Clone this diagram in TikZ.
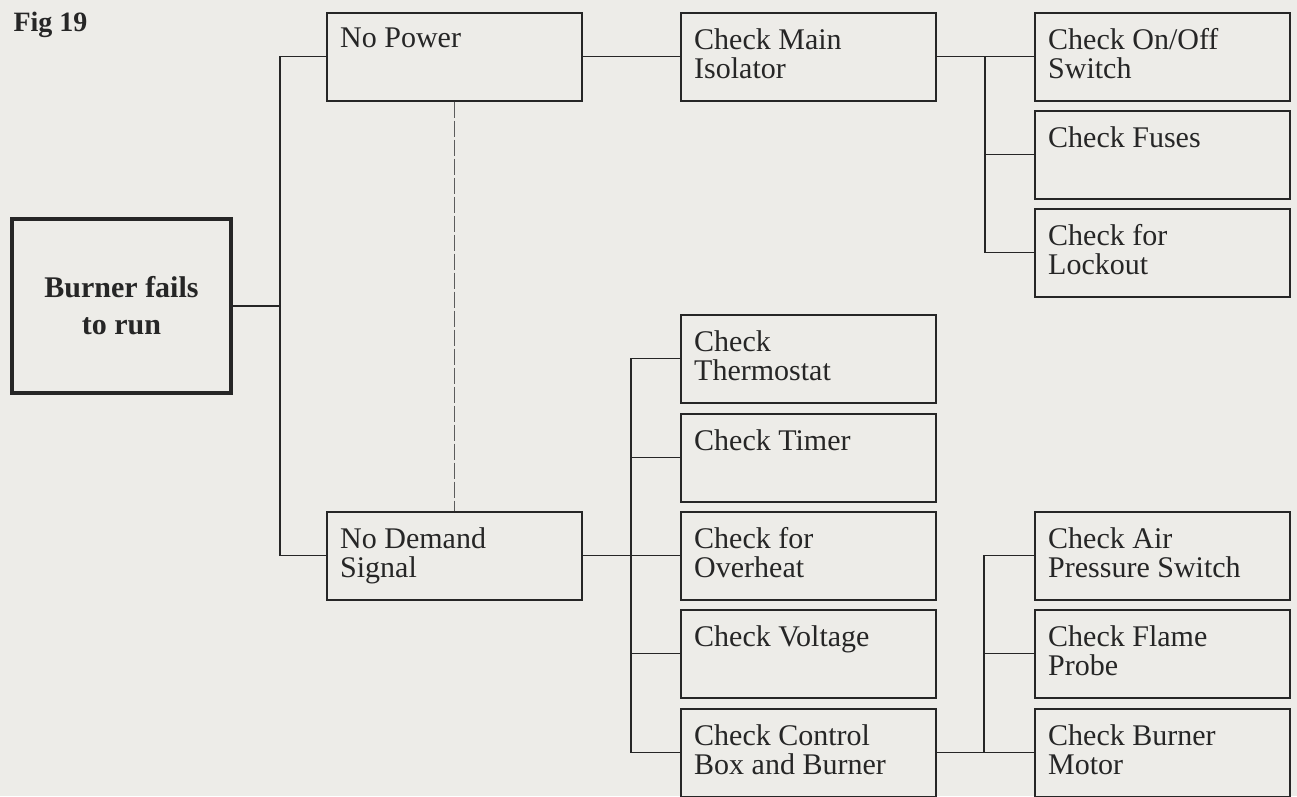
\documentclass[tikz,border=0pt]{standalone}
\usepackage{fontspec}
\setmainfont{Liberation Serif}

\definecolor{paper}{RGB}{237,236,232}
\definecolor{ink}{RGB}{38,38,38}
\newcommand{\chartfont}{\fontsize{30}{29}\selectfont}

\tikzset{
  box/.style={draw=ink, line width=1.5pt, anchor=north west,
    minimum width=255pt, minimum height=88pt, inner sep=0pt,
    label={[anchor=north west, align=left, inner xsep=14pt, inner ysep=16pt,
      font=\chartfont, text=ink]north west:#1}},
  link/.style={draw=ink, line width=1.3pt},
}

\begin{document}
\begin{tikzpicture}[x=1pt, y=-1pt]
        \fill[paper] (0,0) rectangle (1297,796);
        \useasboundingbox (0,0) rectangle (1297,796);

        \node[anchor=base west, text=ink, font=\bfseries\fontsize{28}{29}\selectfont] (fig) at (10,31) {Fig 19};

        % root of the chart
        \node[draw=ink, line width=4pt, minimum width=219pt, minimum height=174pt,
              align=center, text=ink, font=\bfseries\fontsize{30}{37}\selectfont]
              (fail) at (121.5,306) {Burner fails\\to run};

        % first level
        \node[box={No Power}] (power) at (326,12) {};
        \node[box={No Demand\\Signal}] (demand) at (326,511) {};

        % checks for no power
        \node[box={Check Main\\Isolator}] (isolator) at (680,12) {};
        \node[box={Check On/Off\\Switch}] (switch) at (1034,12) {};
        \node[box={Check Fuses}] (fuses) at (1034,110) {};
        \node[box={Check for\\Lockout}] (lockout) at (1034,208) {};

        % checks for no demand
        \node[box={Check\\Thermostat}] (thermostat) at (680,314) {};
        \node[box={Check Timer}] (timer) at (680,413) {};
        \node[box={Check for\\Overheat}] (overheat) at (680,511) {};
        \node[box={Check Voltage}] (voltage) at (680,609) {};
        \node[box={Check Control\\Box and Burner}] (control) at (680,708) {};
        \node[box={Check Air\\Pressure Switch}] (air) at (1034,511) {};
        \node[box={Check Flame\\Probe}] (flame) at (1034,609) {};
        \node[box={Check Burner\\Motor}] (motor) at (1034,708) {};

        % connectors
        \coordinate (j1) at (280,306);
        \draw[link] (fail.east) -- (j1);
        \draw[link] (power.west) -| (j1) |- (demand.west);
        \draw[link, ink!75, dash pattern=on 16pt off 3pt] (power.south) -- (demand.north);

        \coordinate (j2) at (985,56);
        \draw[link] (power.east) -- (isolator.west);
        \draw[link] (isolator.east) -- (switch.west);
        \draw[link] (j2) |- (fuses.west);
        \draw[link] (j2) |- (lockout.west);

        \coordinate (j3) at (631,555);
        \draw[link] (demand.east) -- (overheat.west);
        \draw[link] (thermostat.west) -| (j3) |- (control.west);
        \draw[link] (j3) |- (timer.west);
        \draw[link] (j3) |- (voltage.west);

        \coordinate (j4) at (984,752);
        \draw[link] (control.east) -- (motor.west);
        \draw[link] (air.west) -| (j4);
        \draw[link] (flame.west) -| (j4);
\end{tikzpicture}
\end{document}
